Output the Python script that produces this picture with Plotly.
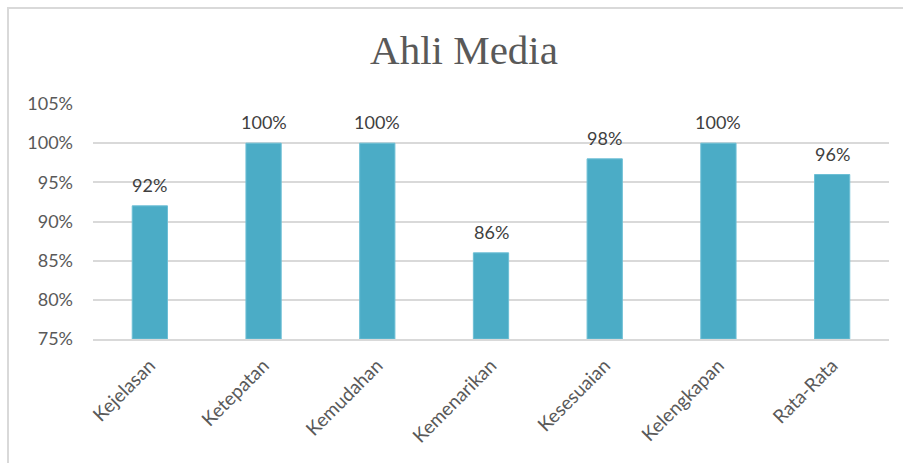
import plotly.graph_objects as go

categories = ["Kejelasan", "Ketepatan", "Kemudahan", "Kemenarikan", "Kesesuaian", "Kelengkapan", "Rata-Rata"]
values = [92, 100, 100, 86, 98, 100, 96]
tick_vals = [75, 80, 85, 90, 95, 100, 105]
tick_text = ["75%", "80%", "85%", "90%", "95%", "100%", "105%"]
title_text = "Ahli Media"

L, R, T, B = 93, 14, 104, 124
W, H = 903, 463
pw, ph = W - L - R, H - T - B

fig = go.Figure()
fig.add_trace(go.Bar(
    x=categories, y=[v - 75 for v in values], base=75,
    marker=dict(color="#4BACC6", line=dict(color="#6DBFD5", width=1)),
    hoverinfo="skip",
))

for c, v in zip(categories, values):
    fig.add_annotation(x=c, y=v, text=f"{v}%", showarrow=False,
                       yanchor="bottom", yshift=8,
                       font=dict(family="Lato", size=18, color="#404040"))

# outer chart border (top and left edges visible)
fig.add_shape(type="rect", xref="paper", yref="paper",
              x0=(8 - L) / pw, x1=(W + 20 - L) / pw,
              y0=-(H + 20 - T - ph) / ph, y1=(H - B - 8) / ph,
              line=dict(color="#D9D9D9", width=2), fillcolor="rgba(0,0,0,0)", layer="below")

fig.update_layout(
    width=W, height=H,
    margin=dict(l=L, r=R, t=T, b=B),
    paper_bgcolor="white", plot_bgcolor="white",
    showlegend=False,
    bargap=0.69,
    title=dict(text=title_text, x=464 / W, xref="container", xanchor="center",
               y=(H - 50) / H, yref="container", yanchor="middle",
               font=dict(family="Liberation Serif", size=41, color="#595959")),
    xaxis=dict(tickangle=-45, tickfont=dict(family="Lato", size=19, color="#595959"),
               showline=True, linecolor="#D9D9D9", linewidth=2, ticks="",
               showgrid=False, fixedrange=True, ticklabelstandoff=6),
    yaxis=dict(range=[75, 105], tickvals=tick_vals, ticktext=tick_text,
               tickfont=dict(family="Lato", size=18, color="#595959"),
               showgrid=True, gridcolor="#D9D9D9", gridwidth=1.5,
               zeroline=False, showline=False, ticks="", ticklabelstandoff=19,
               fixedrange=True),
)

fig.write_html("out.html")
